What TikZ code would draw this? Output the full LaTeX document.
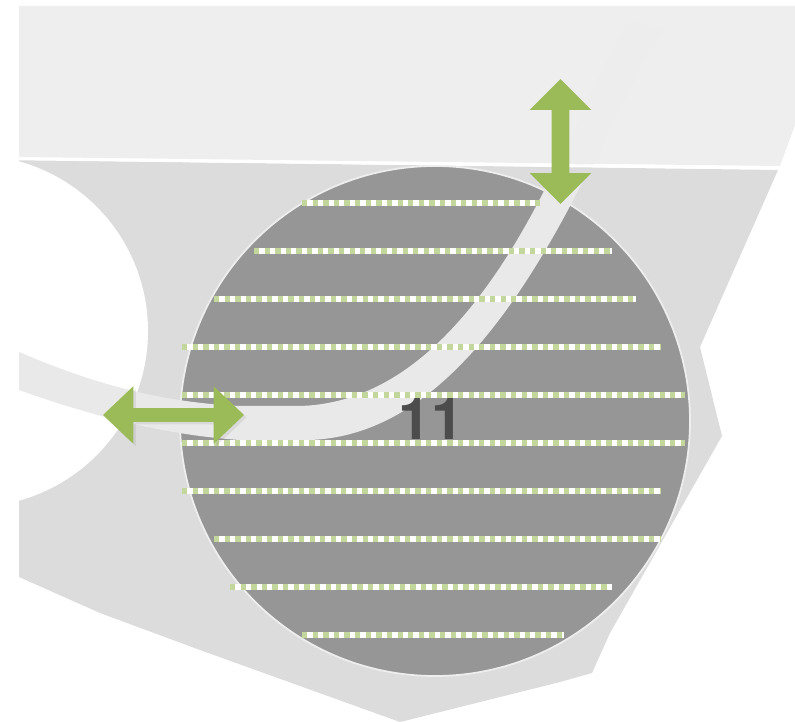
\documentclass[tikz,border=0pt]{standalone}
\usepackage{xcolor}
\usepackage{fontspec}
\setsansfont{TeX Gyre Heros}
\usetikzlibrary{shapes.arrows, shadows}
\definecolor{gristop}{RGB}{238, 238, 238}
\definecolor{grispiece}{RGB}{220, 220, 220}
\definecolor{grisdisque}{RGB}{150, 150, 150}
\definecolor{griscanal}{RGB}{233, 233, 233}
\definecolor{vertfleche}{RGB}{155, 187, 89}
\definecolor{vertclair}{RGB}{195, 214, 155}

\begin{document}
\begin{tikzpicture}[x=0.02cm, y=-0.02cm, font=\sffamily,
    passe/.style={white, line width=3pt, postaction={draw=vertclair, dash pattern=on 3.02pt off 3.02pt}},
    fleche/.style={double arrow, fill=vertfleche, inner sep=0pt, text depth=0pt}]
    \useasboundingbox (0,0) rectangle (795,722);
    % bande du haut
    \fill[gristop] (19,6) -- (795,6) -- (795,125) -- (780,166) -- (19,157) -- cycle;
    \fill[black!7.1] (558,165) .. controls (585,110) and (600,70) .. (630,22) -- (665,28)
        .. controls (635,70) and (615,120) .. (592,168) -- cycle;
    % piece
    \fill[grispiece] (19,160) -- (778,170) -- (700,347) -- (722,436) -- (610,633) -- (592,673)
        -- (560,682) -- (400,722) -- (200,650) -- (100,613) -- (19,577) -- cycle;
    \draw[white, line width=1.5pt] (19,159) -- (780,168);
    % trou a gauche
    \fill[white] (-28,331) circle[radius=176];
    % disque
    \draw[fill=grisdisque, draw=gristop, line width=1pt] (435,421) circle[radius=255];
    % canal
    \fill[griscanal] (19,352) .. controls (80,378) and (150,402) .. (240,406) -- (300,406)
        .. controls (400,403) and (480,320) .. (548,183) -- (582,183)
        .. controls (505,335) and (420,436) .. (310,440) -- (240,440)
        .. controls (150,434) and (70,408) .. (19,390) -- cycle;
    \node[text=black!70, font=\sffamily\bfseries\fontsize{33}{33}\selectfont] (numero) at (431,419) {11};
    % passes
    \draw[passe] (302,203) -- (540,203);
    \draw[passe] (254,251) -- (612,251);
    \draw[passe] (214,299) -- (636,299);
    \draw[passe] (182,347) -- (660,347);
    \draw[passe] (182,395) -- (685,395);
    \draw[passe] (182,443) -- (685,443);
    \draw[passe] (182,491) -- (660,491);
    \draw[passe] (214,539) -- (660,539);
    \draw[passe] (230,587) -- (612,587);
    \draw[passe] (302,635) -- (564,635);
    % fleches
    \node[fleche, minimum height=2.82cm, text height=0.26cm, double arrow head extend=0.44cm,
        double arrow tip angle=87,
        drop shadow={shadow xshift=0.05cm, shadow yshift=-0.05cm, opacity=0.15}] (flechegauche) at (173.5,415) {};
    \node[fleche, minimum height=2.5cm, text height=0.34cm, double arrow head extend=0.44cm,
        double arrow tip angle=90, rotate=90] (flechehaut) at (560.5,141.5) {};
\end{tikzpicture}
\end{document}
